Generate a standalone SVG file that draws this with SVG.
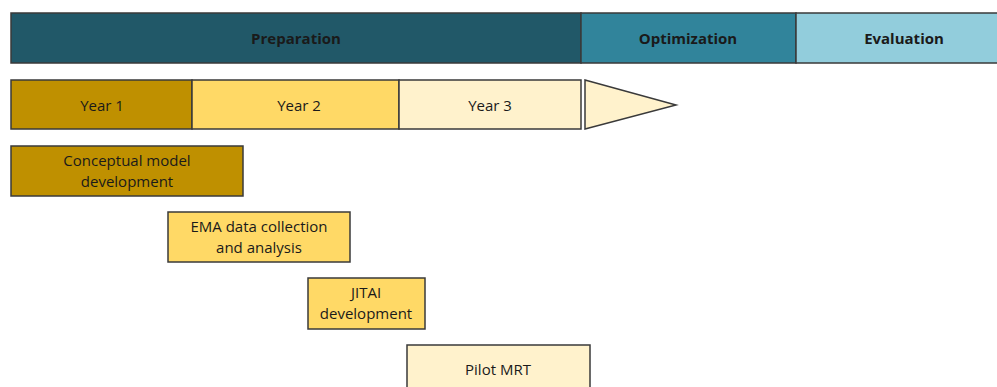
<svg xmlns="http://www.w3.org/2000/svg" width="997" height="387" viewBox="0 0 997 387">
<style>
.box{stroke:#3a3a3a;stroke-width:1.5}
.t{font-family:"Open Sans","Liberation Sans",sans-serif;font-size:15px;fill:#1a1a1a;text-anchor:middle;dominant-baseline:central}
.b{font-weight:bold}
</style>
<rect width="997" height="387" fill="#ffffff"/>
<g id="phase-preparation"><rect class="box" x="11" y="13" width="570" height="50" fill="#215868"/><text class="t b" x="296" y="38">Preparation</text></g>
<g id="phase-optimization"><rect class="box" x="581" y="13" width="215" height="50" fill="#31849b"/><text class="t b" x="688" y="38">Optimization</text></g>
<g id="phase-evaluation"><rect class="box" x="796" y="13" width="205" height="50" fill="#92cddc"/><text class="t b" x="904" y="38">Evaluation</text></g>
<g id="year1"><rect class="box" x="11" y="80" width="181" height="49" fill="#bf9000"/><text class="t" x="102" y="105">Year 1</text></g>
<g id="year2"><rect class="box" x="192" y="80" width="207" height="49" fill="#ffd966"/><text class="t" x="299" y="105">Year 2</text></g>
<g id="year3"><rect class="box" x="399" y="80" width="182" height="49" fill="#fff2cc"/><text class="t" x="490" y="105">Year 3</text></g>
<g id="arrow-head"><polygon class="box" points="585,80 676,105 585,129" fill="#fff2cc"/></g>
<g id="conceptual-model"><rect class="box" x="11" y="146" width="232" height="50" fill="#bf9000"/><text class="t" x="127" y="160">Conceptual model</text><text class="t" x="127" y="181">development</text></g>
<g id="ema"><rect class="box" x="168" y="212" width="182" height="50" fill="#ffd966"/><text class="t" x="259" y="226">EMA data collection</text><text class="t" x="259" y="247">and analysis</text></g>
<g id="jitai"><rect class="box" x="308" y="278" width="117" height="51" fill="#ffd966"/><text class="t" x="366" y="292">JITAI</text><text class="t" x="366" y="313">development</text></g>
<g id="pilot-mrt"><rect class="box" x="407" y="345" width="183" height="50" fill="#fff2cc"/><text class="t" x="498" y="369">Pilot MRT</text></g>
<g id="connectors"></g>
</svg>
